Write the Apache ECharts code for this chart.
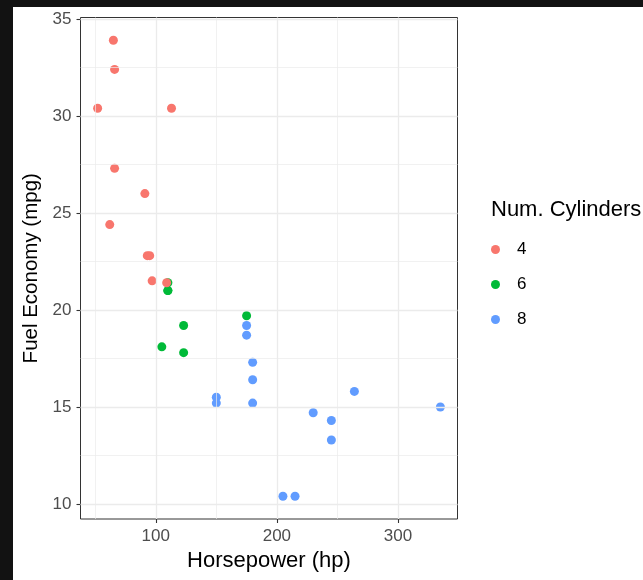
<!DOCTYPE html>
<html>
<head>
<meta charset="utf-8">
<script src="https://cdn.jsdelivr.net/npm/echarts@6/dist/echarts.min.js"></script>
<style>
  html, body { margin: 0; padding: 0; background: #121212; }
  #paper { position: absolute; left: 13px; top: 7px; width: 630px; height: 573px; background: #fff; }
  #chart { position: absolute; left: 0; top: 0; width: 643px; height: 580px; }
</style>
</head>
<body>
<div id="paper"></div>
<div id="chart"></div>
<script>
// mtcars: [hp, mpg] grouped by number of cylinders
const cyl4 = [[93, 22.8], [62, 24.4], [95, 22.8], [66, 32.4], [52, 30.4], [65, 33.9],
  [97, 21.5], [66, 27.3], [91, 26.0], [113, 30.4], [109, 21.4]]
const cyl6 = [[110, 21.0], [110, 21.0], [110, 21.4], [105, 18.1], [123, 19.2], [123, 17.8], [175, 19.7]]
const cyl8 = [[175, 18.7], [245, 14.3], [180, 16.4], [180, 17.3], [180, 15.2], [205, 10.4], [215, 10.4],
  [230, 14.7], [150, 15.5], [150, 15.2], [245, 13.3], [175, 19.2], [264, 15.8], [335, 15.0]]

const legendNames = ['4', '6', '8']
const xTicks = [100, 200, 300]
const yTicks = [10, 15, 20, 25, 30, 35]
const xMinor = [50, 150, 250]
const yMinor = [12.5, 17.5, 22.5, 27.5, 32.5]

const font = "'Liberation Sans', Arial, Helvetica, sans-serif"
const gridColor = '#EBEBEB'

function gridLines(key, values, width) {
  return values.map(v => ({ [key]: v, lineStyle: { color: gridColor, width: width, type: 'solid' } }))
}

const chart = echarts.init(document.getElementById('chart'))
chart.setOption({
  backgroundColor: 'transparent',
  animation: false,
  textStyle: { fontFamily: font },
  title: {
    text: 'Num. Cylinders',
    left: 491,
    top: 199,
    padding: 0,
    textStyle: { fontFamily: font, fontSize: 22, fontWeight: 'normal', color: '#000' }
  },
  legend: {
    data: legendNames,
    orient: 'vertical',
    left: 491,
    top: 241,
    padding: 0,
    icon: 'circle',
    itemWidth: 33,
    itemHeight: 9,
    itemGap: 18,
    textStyle: { fontFamily: font, fontSize: 17, color: '#000' }
  },
  grid: {
    left: 80.5,
    right: 185.5,
    top: 17.5,
    bottom: 61,
    show: true,
    borderColor: '#333',
    borderWidth: 1,
    backgroundColor: '#fff'
  },
  xAxis: {
    type: 'value',
    min: 37.85,
    max: 349.15,
    name: 'Horsepower (hp)',
    nameLocation: 'middle',
    nameGap: 31,
    nameTextStyle: { fontFamily: font, fontSize: 22, color: '#000' },
    axisLine: { show: false },
    axisTick: { show: true, length: 4, customValues: xTicks, lineStyle: { color: '#333', width: 1.1 } },
    axisLabel: { customValues: xTicks, margin: 9, fontSize: 17, color: '#4D4D4D', fontFamily: font },
    splitLine: { show: false }
  },
  yAxis: {
    type: 'value',
    min: 9.225,
    max: 35.075,
    name: 'Fuel Economy (mpg)',
    nameLocation: 'middle',
    nameGap: 22,
    nameTextStyle: { fontFamily: font, fontSize: 20.5, color: '#000' },
    axisLine: { show: false },
    axisTick: { show: true, length: 4, customValues: yTicks, lineStyle: { color: '#333', width: 1.1 } },
    axisLabel: { customValues: yTicks, margin: 9, fontSize: 17, color: '#4D4D4D', fontFamily: font },
    splitLine: { show: false }
  },
  series: [
    {
      name: 'grid',
      type: 'scatter',
      data: [],
      z: 1,
      silent: true,
      markLine: {
        silent: true,
        symbol: 'none',
        label: { show: false },
        animation: false,
        data: [].concat(
          gridLines('xAxis', xMinor, 0.7),
          gridLines('yAxis', yMinor, 0.7),
          gridLines('xAxis', xTicks, 1.3),
          gridLines('yAxis', yTicks, 1.3)
        )
      }
    },
    { name: '6', type: 'scatter', z: 2, symbolSize: 9, data: cyl6, itemStyle: { color: '#00BA38', opacity: 1 } },
    { name: '8', type: 'scatter', z: 2, symbolSize: 9, data: cyl8, itemStyle: { color: '#619CFF', opacity: 1 } },
    { name: '4', type: 'scatter', z: 3, symbolSize: 9, data: cyl4, itemStyle: { color: '#F8766D', opacity: 1 } }
  ]
})
</script>
</body>
</html>
